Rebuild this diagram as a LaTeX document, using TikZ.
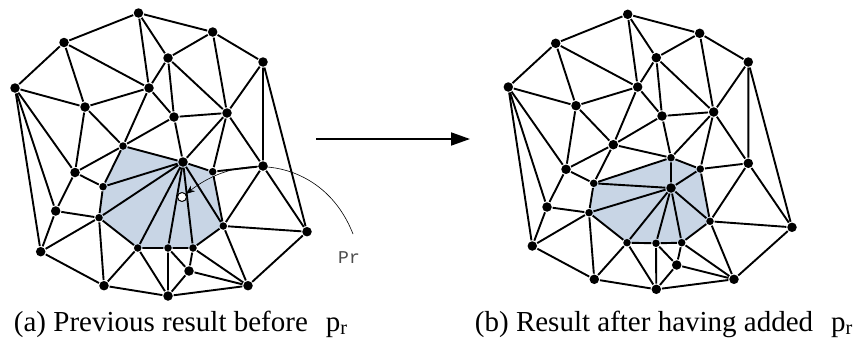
\documentclass[tikz,border=0pt]{standalone}
\usepackage{fontspec}
\setmainfont{Liberation Serif}
\newfontfamily\labelfont{Liberation Mono}
\usepackage{xcolor}
\usetikzlibrary{arrows.meta, backgrounds}
\definecolor{lightshade}{HTML}{C8D5E5}
\tikzset{
  dot/.style={circle, fill=black, inner sep=0pt, minimum size=9.5pt},
  smalldot/.style={circle, fill=black, inner sep=0pt, minimum size=7.5pt},
  newdot/.style={circle, draw=black, fill=white, line width=1pt, inner sep=0pt, minimum size=9pt},
  caption/.style={anchor=base west, inner sep=0pt, font=\fontsize{29}{32}\selectfont}
}

\begin{document}
\begin{tikzpicture}[>=Stealth, x=1pt, y=-1pt, line width=1.9pt, line join=round]
  \useasboundingbox (0,0) rectangle (855,340);

  % Left mesh
  \node[dot] (la) at (138.5,13) {};
  \node[dot] (lb) at (64,42.5) {};
  \node[dot] (lc) at (15,88) {};
  \node[dot] (ld) at (85,107) {};
  \node[dot] (le) at (149,88) {};
  \node[dot] (lf) at (168,58) {};
  \node[dot] (lg) at (174,117) {};
  \node[smalldot] (lh) at (123,146) {};
  \node[dot] (li) at (183,162) {};
  \node[dot] (lj) at (75,172.5) {};
  \node[dot] (lk) at (212.7,32) {};
  \node[dot] (ll) at (263,62) {};
  \node[dot] (lm) at (227,113) {};
  \node[dot] (ln) at (263,166) {};
  \node[smalldot] (lo) at (212.7,171.7) {};
  \node[smalldot] (lp) at (223.3,226) {};
  \node[dot] (lq) at (307,231.7) {};
  \node[dot] (lr) at (248,285.7) {};
  \node[smalldot] (ls) at (193,248) {};
  \node[dot] (lt) at (189,271) {};
  \node[dot] (lu) at (168,296) {};
  \node[smalldot] (lv) at (103,186.7) {};
  \node[smalldot] (lw) at (99,217.7) {};
  \node[dot] (lx) at (55.7,211) {};
  \node[dot] (ly) at (40.7,251.7) {};
  \node[dot] (lz) at (104,285.7) {};
  \node[smalldot] (laa) at (137.7,248) {};
  \node[smalldot] (lbb) at (168,248) {};

  \begin{scope}[on background layer]
    \fill[lightshade] (lh.center) -- (li.center) -- (lo.center) -- (lp.center) -- (ls.center) -- (laa.center) -- (lw.center) -- (lv.center) -- cycle;
  \end{scope}

  \draw (lc) -- (lb) -- (la) -- (lk) -- (ll) -- (lq) -- (lr) -- (lu) -- (lz) -- (ly) -- (lc);
  \draw (la) -- (le) -- (lb) -- (ld) -- (lc) -- (lj);
  \draw (lc) -- (lx);
  \draw (la) -- (lf) -- (lk) -- (lm) -- (ll) -- (ln) -- (lq);
  \draw (ld) -- (le) -- (lf) -- (lg) -- (le) -- (lh) -- (ld) -- (lj) -- (lh);
  \draw (lf) -- (lm) -- (lg) -- (lh) -- (li) -- (lg);
  \draw (lm) -- (li);
  \draw (lm) -- (lo);
  \draw (lm) -- (ln) -- (lp) -- (lq);
  \draw (lh) -- (lv) -- (lj) -- (lx) -- (lw) -- (lv);
  \draw (lx) -- (ly) -- (lw) -- (lz) -- (laa) -- (lw);
  \draw (lv) -- (li) -- (lw);
  \draw (laa) -- (li) -- (lbb);
  \draw (ls) -- (li) -- (lo) -- (ln);
  \draw (li) -- (lp) -- (lo);
  \draw (laa) -- (lbb) -- (ls) -- (lp) -- (lr) -- (ls) -- (lt) -- (lr);
  \draw (laa) -- (lu) -- (lbb) -- (lt) -- (lu);

  % Inserted point
  \node[newdot] (lnew) at (182,197) {};
  \node[anchor=base, inner sep=0pt, text=black!70, font=\labelfont\fontsize{18}{20}\selectfont] (prlabel) at (349,263) {Pr};
  \coordinate (arcstart) at (353,234);
  \draw[-{Stealth[length=9pt,width=7pt]}, line width=0.6pt] (arcstart) .. controls (325,162) and (245,148) .. (lnew);

  % Step between the meshes
  \coordinate (stepfrom) at (316,139);
  \coordinate (stepto) at (470,139);
  \draw[-{Triangle[length=19pt,width=13pt]}, line width=1.8pt] (stepfrom) -- (stepto);

  % Right mesh
  \node[dot] (ra) at (627.7,14.3) {};
  \node[dot] (rb) at (555.7,43.3) {};
  \node[dot] (rc) at (508.3,87) {};
  \node[dot] (rd) at (576,105.7) {};
  \node[dot] (re) at (637.7,87) {};
  \node[dot] (rf) at (656.3,57.7) {};
  \node[dot] (rg) at (662,116) {};
  \node[dot] (rh) at (613.3,144.7) {};
  \node[smalldot] (ri) at (671,157.7) {};
  \node[dot] (rj) at (566,169.3) {};
  \node[dot] (rk) at (699.7,33.3) {};
  \node[dot] (rl) at (748.3,62) {};
  \node[dot] (rm) at (713.7,112) {};
  \node[dot] (rn) at (748.3,163.3) {};
  \node[smalldot] (ro) at (700.3,169) {};
  \node[smalldot] (rp) at (710,221.3) {};
  \node[dot] (rq) at (792,227.3) {};
  \node[dot] (rr) at (734,279.3) {};
  \node[smalldot] (rs) at (681.7,242.7) {};
  \node[dot] (rt) at (676.7,265) {};
  \node[dot] (ru) at (656.3,289.3) {};
  \node[smalldot] (rv) at (593.7,183.3) {};
  \node[smalldot] (rw) at (589,212.7) {};
  \node[dot] (rx) at (547,207) {};
  \node[dot] (ry) at (532.3,246) {};
  \node[dot] (rz) at (594.3,279.3) {};
  \node[smalldot] (raa) at (627,242.7) {};
  \node[smalldot] (rbb) at (656,243.3) {};
  \node[dot] (rnew) at (671,188) {};

  \begin{scope}[on background layer]
    \fill[lightshade] (rv.center) -- (ri.center) -- (ro.center) -- (rp.center) -- (rs.center) -- (raa.center) -- (rw.center) -- cycle;
  \end{scope}

  \draw (rc) -- (rb) -- (ra) -- (rk) -- (rl) -- (rq) -- (rr) -- (ru) -- (rz) -- (ry) -- (rc);
  \draw (ra) -- (re) -- (rb) -- (rd) -- (rc) -- (rj);
  \draw (rc) -- (rx);
  \draw (ra) -- (rf) -- (rk) -- (rm) -- (rl) -- (rn) -- (rq);
  \draw (rd) -- (re) -- (rf) -- (rg) -- (re) -- (rh) -- (rd) -- (rj) -- (rh);
  \draw (rf) -- (rm) -- (rg) -- (rh) -- (ri) -- (rg);
  \draw (rm) -- (ri);
  \draw (rm) -- (ro);
  \draw (rm) -- (rn) -- (rp) -- (rq);
  \draw (rh) -- (rv) -- (rj) -- (rx) -- (rw) -- (rv);
  \draw (rx) -- (ry) -- (rw) -- (rz) -- (raa) -- (rw);
  \draw (rv) -- (ri) -- (ro) -- (rn);
  \draw (ro) -- (rp);
  \draw (raa) -- (rbb) -- (rs) -- (rp) -- (rr) -- (rs) -- (rt) -- (rr);
  \draw (raa) -- (ru) -- (rbb) -- (rt) -- (ru);

  % Fan round the inserted point
  \draw (rv) -- (rnew) -- (ri);
  \draw (rw) -- (rnew) -- (ro);
  \draw (raa) -- (rnew) -- (rp);
  \draw (rbb) -- (rnew) -- (rs);

  % Captions
  \node[caption] (capa) at (13,331) {(a) Previous result before\hspace{18pt}p\textsubscript{r}};
  \node[caption] (capb) at (474,331) {(b) Result after having added\hspace{18pt}p\textsubscript{r}};
\end{tikzpicture}
\end{document}
